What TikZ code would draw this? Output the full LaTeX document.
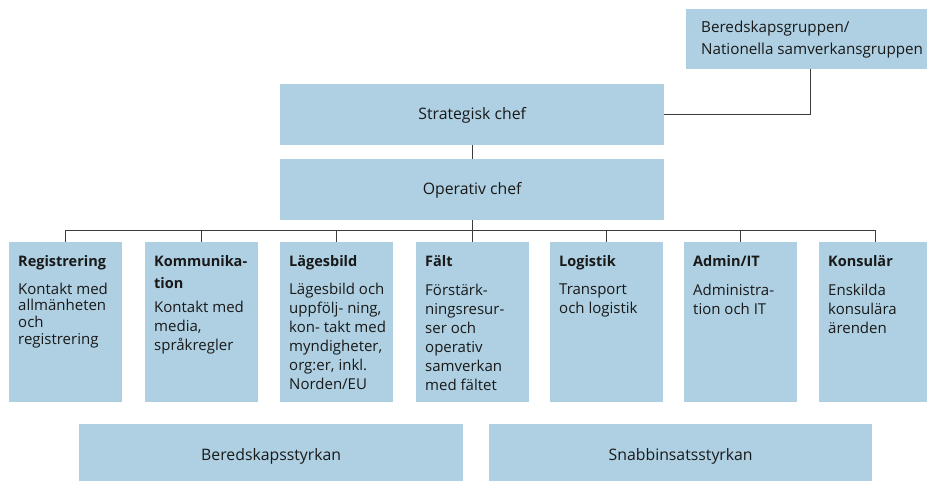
\documentclass[tikz,border=0pt]{standalone}
\usepackage{fontspec}
\setmainfont{Open Sans}
\definecolor{boxblue}{RGB}{174,208,226}
\definecolor{linegray}{RGB}{60,60,60}
\definecolor{txt}{RGB}{25,25,25}
\begin{document}
\begin{tikzpicture}[x=1pt,y=-1pt,
  every node/.style={text=txt},
  bluebox/.style={fill=boxblue, draw=none, inner sep=0pt, anchor=north west},
  unitbox/.style={bluebox, minimum width=113pt, minimum height=160pt},
  ttl/.style={anchor=north west, inner sep=0pt, align=left, font=\fontsize{14.5}{21.6}\selectfont\bfseries},
  bdy/.style={anchor=north west, inner sep=0pt, align=left, font=\fontsize{15}{19.1}\selectfont},
  mid/.style={inner sep=0pt, font=\fontsize{15.8}{22}\selectfont},
  conn/.style={draw=linegray, line width=0.9pt}
]
\useasboundingbox (0,0) rectangle (927,481);
\clip (0,0) rectangle (927,481);
% top level boxes
\node[bluebox, minimum width=248pt, minimum height=60pt] (bg) at (686,9) {};
\node[bluebox, minimum width=384pt, minimum height=61pt] (strat) at (280,84) {};
\node[bluebox, minimum width=384pt, minimum height=61pt] (op) at (280,159) {};
\node[anchor=north west, inner sep=0pt, align=left, font=\fontsize{15.2}{22}\selectfont] (bgt) at (701,20.5) {Beredskapsgruppen/\\Nationella samverkansgruppen};
\node[mid] (stratt) at ([yshift=-1pt]strat.center) {Strategisk chef};
\node[mid] (opt) at ([yshift=-1pt]op.center) {Operativ chef};
% unit boxes
\node[unitbox] (b1) at (9,242) {};
\node[unitbox] (b2) at (145,242) {};
\node[unitbox] (b3) at (280,242) {};
\node[unitbox] (b4) at (416,242) {};
\node[unitbox] (b5) at (550,242) {};
\node[unitbox] (b6) at (684,242) {};
\node[unitbox] (b7) at (819,242) {};
% titles
\node[ttl] (t1) at ([shift={(9,13.5)}]b1.north west) {Registrering};
\node[ttl] (t2) at ([shift={(9,13.5)}]b2.north west) {Kommunika-\\tion};
\node[ttl] (t3) at ([shift={(9,13.5)}]b3.north west) {Lägesbild};
\node[ttl] (t4) at ([shift={(9,13.5)}]b4.north west) {Fält};
\node[ttl] (t5) at ([shift={(9,13.5)}]b5.north west) {Logistik};
\node[ttl] (t6) at ([shift={(9,13.5)}]b6.north west) {Admin/IT};
\node[ttl] (t7) at ([shift={(9,13.5)}]b7.north west) {Konsulär};
% bodies
\node[bdy, font=\fontsize{15}{16.6}\selectfont] (d1) at ([shift={(9,40.7)}]b1.north west) {Kontakt med\\allmänheten\\och\\registrering};
\node[bdy] (d2) at ([shift={(9,59)}]b2.north west) {Kontakt med\\media,\\språkregler};
\node[bdy] (d3) at ([shift={(9,40.7)}]b3.north west) {Lägesbild och\\uppfölj- ning,\\kon- takt med\\myndigheter,\\org:er, inkl.\\Norden/EU};
\node[bdy] (d4) at ([shift={(9,41.5)}]b4.north west) {Förstärk-\\ningsresur-\\ser och\\operativ\\samverkan\\med fältet};
\node[bdy] (d5) at ([shift={(9,41.5)}]b5.north west) {Transport\\och logistik};
\node[bdy] (d6) at ([shift={(9,41.5)}]b6.north west) {Administra-\\tion och IT};
\node[bdy] (d7) at ([shift={(9,41.5)}]b7.north west) {Enskilda\\konsulära\\ärenden};
% bottom boxes
\node[bluebox, minimum width=384pt, minimum height=60pt] (bs) at (79,424) {};
\node[bluebox, minimum width=383pt, minimum height=60pt] (sb) at (489,424) {};
\node[mid] (bst) at (bs.north |- 0,456) {Beredskapsstyrkan};
\node[mid] (sbt) at (sb.north |- 0,456) {Snabbinsatsstyrkan};
% connectors
\coordinate (bus) at (0,230);
\draw[conn] (strat.east) -| (bg.south);
\draw[conn] (strat.south) -- (op.north);
\draw[conn] (op.south) -- (op.south |- b4.north);
\draw[conn] (b1.north) |- (bus -| b7.north) -- (b7.north);
\draw[conn] (b2.north) -- (bus -| b2.north);
\draw[conn] (b3.north) -- (bus -| b3.north);
\draw[conn] (b5.north) -- (bus -| b5.north);
\draw[conn] (b6.north) -- (bus -| b6.north);
\end{tikzpicture}
\end{document}
